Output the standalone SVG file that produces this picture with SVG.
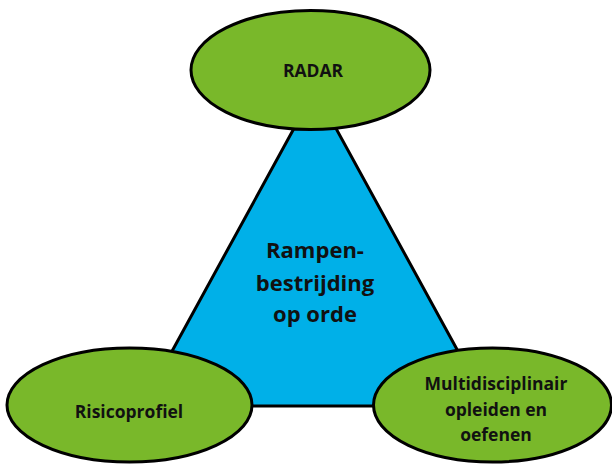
<svg xmlns="http://www.w3.org/2000/svg" width="612" height="465" viewBox="0 0 612 465">
<style>
.node{fill:#79b82a;stroke:#000;stroke-width:3}
.tri{fill:#00b0e8;stroke:#000;stroke-width:3;stroke-linejoin:miter}
.lbl{font-family:"Open Sans",sans-serif;font-weight:700;fill:#111;text-anchor:middle}
.s{font-size:17.5px}
.b{font-size:22px}
</style>
<rect width="612" height="465" fill="#fff"/>
<g id="center">
<polygon class="tri" points="315,90 142,406 488,406"/>
<text class="lbl b" x="315" y="258">Rampen-</text>
<text class="lbl b" x="315" y="291">bestrijding</text>
<text class="lbl b" x="315" y="322">op orde</text>
</g>
<g id="connectors"></g>
<g id="radar">
<ellipse class="node" cx="310.5" cy="70" rx="119.5" ry="59.5"/>
<text class="lbl s" x="313" y="77">RADAR</text>
</g>
<g id="risicoprofiel">
<ellipse class="node" cx="129.5" cy="405" rx="122.5" ry="57"/>
<text class="lbl s" x="129" y="418">Risicoprofiel</text>
</g>
<g id="opleiden">
<ellipse class="node" cx="492.5" cy="405" rx="119" ry="57"/>
<text class="lbl s" x="496" y="390">Multidisciplinair</text>
<text class="lbl s" x="496" y="416">opleiden en</text>
<text class="lbl s" x="496" y="441">oefenen</text>
</g>
</svg>
